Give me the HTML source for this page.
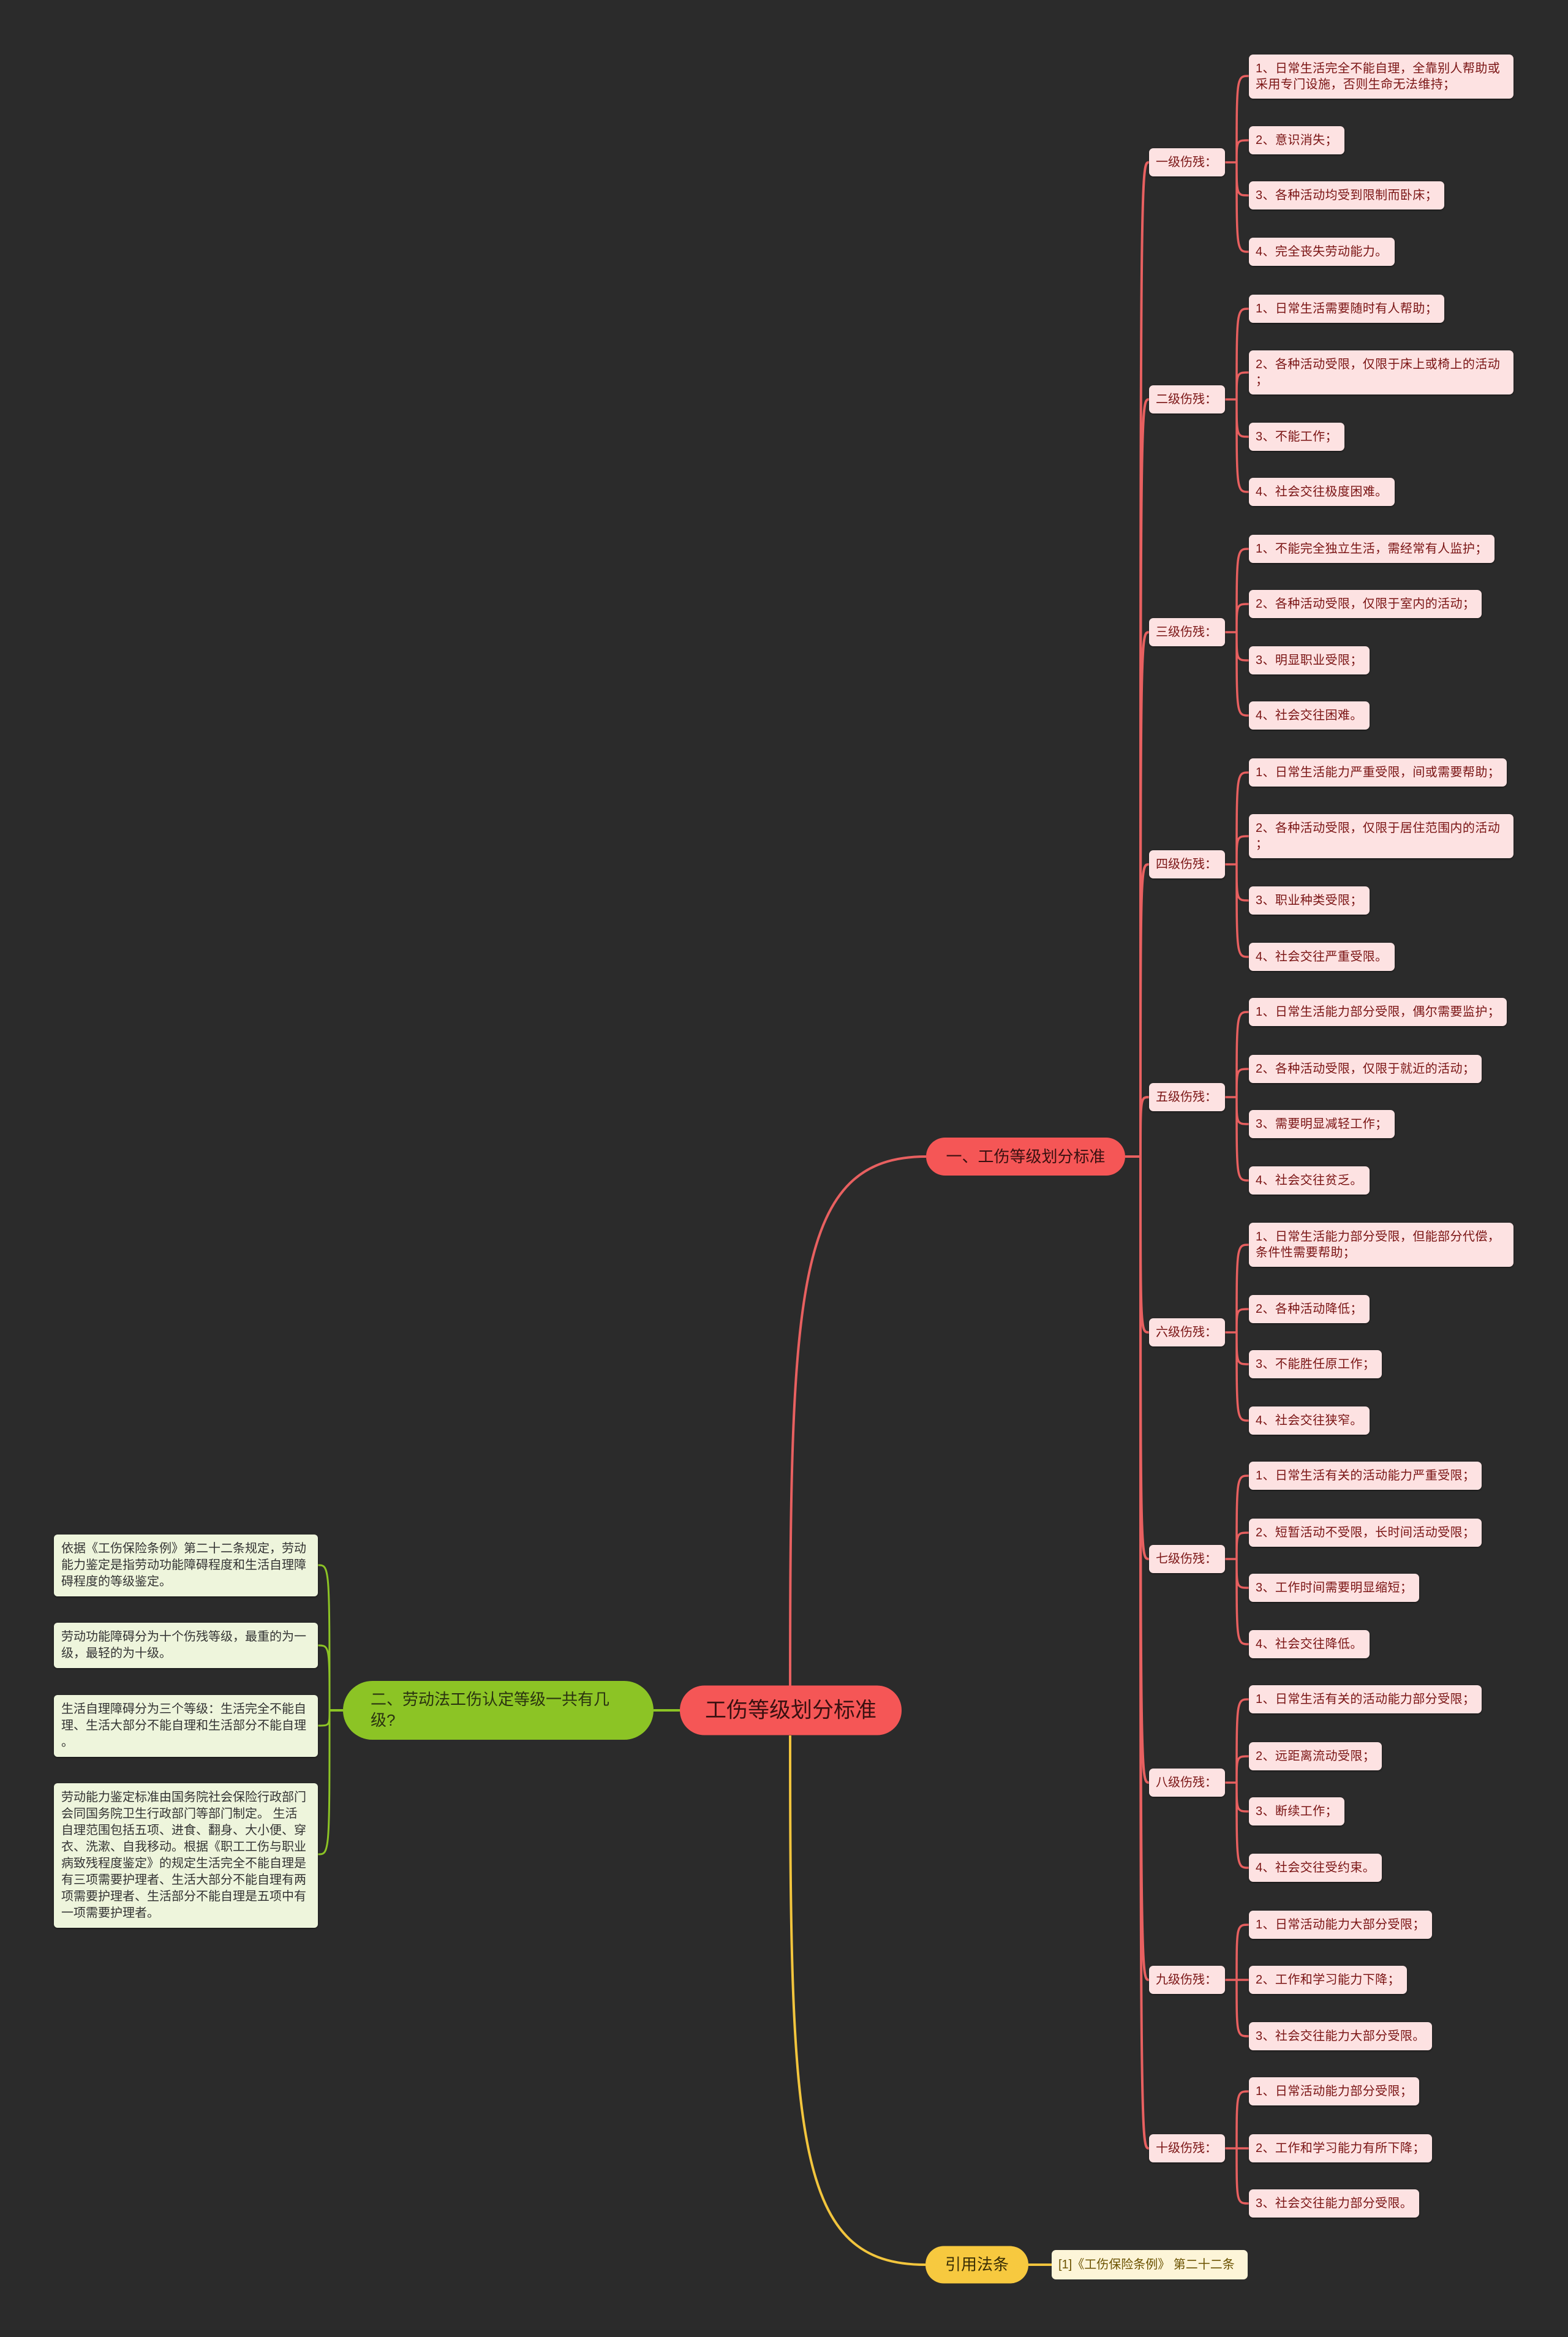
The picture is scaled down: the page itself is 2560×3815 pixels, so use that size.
<!DOCTYPE html>
<html><head><meta charset="utf-8">
<style>
html,body{margin:0;padding:0}
body{width:2560px;height:3815px;background:#2b2b2b;position:relative;overflow:hidden;font-family:"Liberation Sans","Noto Sans CJK SC",sans-serif}
.b{position:absolute;transform:translateY(-50%);box-sizing:border-box;white-space:nowrap}
.l{left:2039px;background:#fde2e2;color:#7a1414;font-size:20px;letter-spacing:0.4px;line-height:26px;padding:10px 11px;border-radius:7px;box-shadow:0 1px 2px #111}
.l.w{width:432px;white-space:normal;word-break:break-all;line-break:anywhere;padding:10px 11px}
.g{left:1876px;width:124px;background:#fde2e2;color:#7a1414;font-size:20px;line-height:26px;padding:10px 11px;border-radius:7px;box-shadow:0 1px 2px #111}
.p{position:absolute;box-sizing:border-box;background:#eef5dc;color:#333;font-size:20px;line-height:27px;padding:10px 12px;border-radius:6px;left:88px;width:431px;white-space:nowrap;overflow:hidden;box-shadow:0 1px 2px #111}
</style></head><body>
<svg width="2560" height="3815" style="position:absolute;left:0;top:0" fill="none">
<g stroke="#e86060" stroke-width="4">
<path d="M1290,2752 C1290,2100 1300,1888 1512,1888"/>
<path d="M1837,1888 H1862"/>
<path d="M1862,1888 C1862,265 1862,265 1876,265"/>
<path d="M1862,1888 C1862,652 1862,652 1876,652"/>
<path d="M1862,1888 C1862,1032 1862,1032 1876,1032"/>
<path d="M1862,1888 C1862,1411 1862,1411 1876,1411"/>
<path d="M1862,1888 C1862,1791 1862,1791 1876,1791"/>
<path d="M1862,1888 C1862,2175 1862,2175 1876,2175"/>
<path d="M1862,1888 C1862,2545 1862,2545 1876,2545"/>
<path d="M1862,1888 C1862,2910 1862,2910 1876,2910"/>
<path d="M1862,1888 C1862,3232 1862,3232 1876,3232"/>
<path d="M1862,1888 C1862,3507 1862,3507 1876,3507"/>
</g>
<g stroke="#e86060" stroke-width="3.5">
<path d="M2000,265H2019 M2019,265 C2019,124 2019,124 2039,124 M2019,265 C2019,229 2019,229 2039,229 M2019,265 C2019,319 2019,319 2039,319 M2019,265 C2019,411 2019,411 2039,411"/>
<path d="M2000,652H2019 M2019,652 C2019,504 2019,504 2039,504 M2019,652 C2019,608 2019,608 2039,608 M2019,652 C2019,713 2019,713 2039,713 M2019,652 C2019,803 2019,803 2039,803"/>
<path d="M2000,1032H2019 M2019,1032 C2019,896 2019,896 2039,896 M2019,1032 C2019,986 2019,986 2039,986 M2019,1032 C2019,1078 2019,1078 2039,1078 M2019,1032 C2019,1168 2019,1168 2039,1168"/>
<path d="M2000,1411H2019 M2019,1411 C2019,1261 2019,1261 2039,1261 M2019,1411 C2019,1365 2019,1365 2039,1365 M2019,1411 C2019,1470 2019,1470 2039,1470 M2019,1411 C2019,1562 2019,1562 2039,1562"/>
<path d="M2000,1791H2019 M2019,1791 C2019,1652 2019,1652 2039,1652 M2019,1791 C2019,1745 2019,1745 2039,1745 M2019,1791 C2019,1835 2019,1835 2039,1835 M2019,1791 C2019,1927 2019,1927 2039,1927"/>
<path d="M2000,2175H2019 M2019,2175 C2019,2032 2019,2032 2039,2032 M2019,2175 C2019,2137 2019,2137 2039,2137 M2019,2175 C2019,2227 2019,2227 2039,2227 M2019,2175 C2019,2319 2019,2319 2039,2319"/>
<path d="M2000,2545H2019 M2019,2545 C2019,2409 2019,2409 2039,2409 M2019,2545 C2019,2502 2019,2502 2039,2502 M2019,2545 C2019,2592 2019,2592 2039,2592 M2019,2545 C2019,2684 2019,2684 2039,2684"/>
<path d="M2000,2910H2019 M2019,2910 C2019,2774 2019,2774 2039,2774 M2019,2910 C2019,2867 2019,2867 2039,2867 M2019,2910 C2019,2957 2019,2957 2039,2957 M2019,2910 C2019,3049 2019,3049 2039,3049"/>
<path d="M2000,3232H2019 M2019,3232 C2019,3142 2019,3142 2039,3142 M2019,3232 H2039 M2019,3232 C2019,3324 2019,3324 2039,3324"/>
<path d="M2000,3507H2019 M2019,3507 C2019,3414 2019,3414 2039,3414 M2019,3507 H2039 M2019,3507 C2019,3597 2019,3597 2039,3597"/>
</g>
<g stroke="#f2c53d" stroke-width="4">
<path d="M1290,2833 C1290,3500 1300,3697 1511,3697"/>
<path d="M1679,3697 H1717"/>
</g>
<g stroke="#8cc425" stroke-width="4">
<path d="M1110,2792 H1067"/>
<path d="M560,2792 H538"/>
</g>
<g stroke="#8cc425" stroke-width="3">
<path d="M538,2792 C538,2555 538,2555 519,2555 M538,2792 C538,2686 538,2686 519,2686 M538,2792 C538,2817 538,2817 519,2817 M538,2792 C538,3027 538,3027 519,3027"/>
</g>
</svg>

<div class="b" style="left:1110px;top:2792px;width:362px;height:81px;background:#f55656;border-radius:40px;color:#3a1010;font-size:35px;text-align:center;line-height:81px">工伤等级划分标准</div>
<div class="b" style="left:1512px;top:1888px;width:325px;height:62px;background:#f55656;border-radius:31px;color:#3a1010;font-size:26px;text-align:center;line-height:62px">一、工伤等级划分标准</div>
<div class="b" style="left:560px;top:2792px;width:507px;height:96px;background:#8cc425;border-radius:48px;color:#2a3310;font-size:26px;line-height:34px;padding:13px 40px 13px 45px;white-space:normal">二、劳动法工伤认定等级一共有几级?</div>
<div class="b" style="left:1511px;top:3697px;width:168px;height:61px;background:#f7c93f;border-radius:30px;color:#3a2e05;font-size:26px;text-align:center;line-height:61px">引用法条</div>
<div class="b" style="left:1717px;top:3697px;width:320px;height:48px;background:#fdf5d8;border-radius:7px;color:#6b5200;font-size:20px;line-height:48px;padding:0 11px">[1]《工伤保险条例》 第二十二条</div>

<div class="p" style="top:2505px">依据《工伤保险条例》第二十二条规定，劳动<br>能力鉴定是指劳动功能障碍程度和生活自理障<br>碍程度的等级鉴定。</div>
<div class="p" style="top:2649px">劳动功能障碍分为十个伤残等级，最重的为一<br>级，最轻的为十级。</div>
<div class="p" style="top:2767px">生活自理障碍分为三个等级：生活完全不能自<br>理、生活大部分不能自理和生活部分不能自理<br>。</div>
<div class="p" style="top:2911px">劳动能力鉴定标准由国务院社会保险行政部门<br>会同国务院卫生行政部门等部门制定。 生活<br>自理范围包括五项、进食、翻身、大小便、穿<br>衣、洗漱、自我移动。根据《职工工伤与职业<br>病致残程度鉴定》的规定生活完全不能自理是<br>有三项需要护理者、生活大部分不能自理有两<br>项需要护理者、生活部分不能自理是五项中有<br>一项需要护理者。</div>

<div class="b g" style="top:265px">一级伤残：</div>
<div class="b l w" style="top:125px">1、日常生活完全不能自理，全靠别人帮助或采用专门设施，否则生命无法维持；</div>
<div class="b l" style="top:229px">2、意识消失；</div>
<div class="b l" style="top:319px">3、各种活动均受到限制而卧床；</div>
<div class="b l" style="top:411px">4、完全丧失劳动能力。</div>

<div class="b g" style="top:652px">二级伤残：</div>
<div class="b l" style="top:504px">1、日常生活需要随时有人帮助；</div>
<div class="b l w" style="top:608px">2、各种活动受限，仅限于床上或椅上的活动；</div>
<div class="b l" style="top:713px">3、不能工作；</div>
<div class="b l" style="top:803px">4、社会交往极度困难。</div>

<div class="b g" style="top:1032px">三级伤残：</div>
<div class="b l" style="top:896px">1、不能完全独立生活，需经常有人监护；</div>
<div class="b l" style="top:986px">2、各种活动受限，仅限于室内的活动；</div>
<div class="b l" style="top:1078px">3、明显职业受限；</div>
<div class="b l" style="top:1168px">4、社会交往困难。</div>

<div class="b g" style="top:1411px">四级伤残：</div>
<div class="b l" style="top:1261px">1、日常生活能力严重受限，间或需要帮助；</div>
<div class="b l w" style="top:1365px">2、各种活动受限，仅限于居住范围内的活动；</div>
<div class="b l" style="top:1470px">3、职业种类受限；</div>
<div class="b l" style="top:1562px">4、社会交往严重受限。</div>

<div class="b g" style="top:1791px">五级伤残：</div>
<div class="b l" style="top:1652px">1、日常生活能力部分受限，偶尔需要监护；</div>
<div class="b l" style="top:1745px">2、各种活动受限，仅限于就近的活动；</div>
<div class="b l" style="top:1835px">3、需要明显减轻工作；</div>
<div class="b l" style="top:1927px">4、社会交往贫乏。</div>

<div class="b g" style="top:2175px">六级伤残：</div>
<div class="b l w" style="top:2032px">1、日常生活能力部分受限，但能部分代偿，条件性需要帮助；</div>
<div class="b l" style="top:2137px">2、各种活动降低；</div>
<div class="b l" style="top:2227px">3、不能胜任原工作；</div>
<div class="b l" style="top:2319px">4、社会交往狭窄。</div>

<div class="b g" style="top:2545px">七级伤残：</div>
<div class="b l" style="top:2409px">1、日常生活有关的活动能力严重受限；</div>
<div class="b l" style="top:2502px">2、短暂活动不受限，长时间活动受限；</div>
<div class="b l" style="top:2592px">3、工作时间需要明显缩短；</div>
<div class="b l" style="top:2684px">4、社会交往降低。</div>

<div class="b g" style="top:2910px">八级伤残：</div>
<div class="b l" style="top:2774px">1、日常生活有关的活动能力部分受限；</div>
<div class="b l" style="top:2867px">2、远距离流动受限；</div>
<div class="b l" style="top:2957px">3、断续工作；</div>
<div class="b l" style="top:3049px">4、社会交往受约束。</div>

<div class="b g" style="top:3232px">九级伤残：</div>
<div class="b l" style="top:3142px">1、日常活动能力大部分受限；</div>
<div class="b l" style="top:3232px">2、工作和学习能力下降；</div>
<div class="b l" style="top:3324px">3、社会交往能力大部分受限。</div>

<div class="b g" style="top:3507px">十级伤残：</div>
<div class="b l" style="top:3414px">1、日常活动能力部分受限；</div>
<div class="b l" style="top:3507px">2、工作和学习能力有所下降；</div>
<div class="b l" style="top:3597px">3、社会交往能力部分受限。</div>
</body></html>
